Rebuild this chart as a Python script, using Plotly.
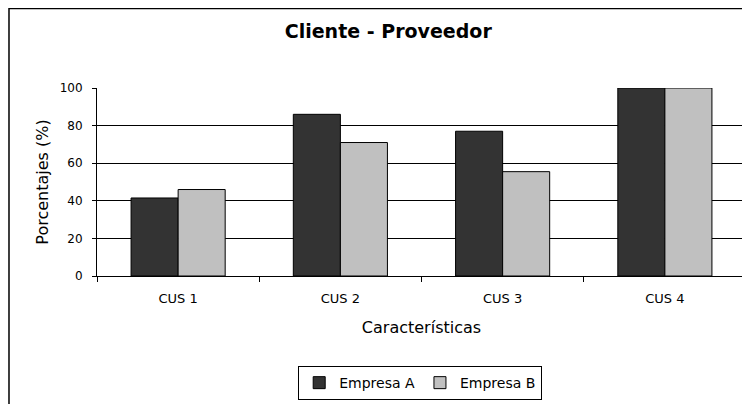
import plotly.graph_objects as go

categories = ["CUS 1", "CUS 2", "CUS 3", "CUS 4"]
empresa_a = [41.5, 86, 77, 100]
empresa_b = [46, 71, 55.5, 100]
series_names = ["Empresa A", "Empresa B"]
colors = ["#333333", "#C0C0C0"]

FONT = "DejaVu Sans, Liberation Sans, Arial, sans-serif"

fig = go.Figure()
for name, vals, col in zip(series_names, [empresa_a, empresa_b], colors):
    fig.add_trace(go.Bar(
        x=categories, y=vals, name=name,
        marker=dict(color=col, line=dict(color="black", width=1)),
    ))

fig.update_layout(
    width=750, height=404,
    paper_bgcolor="white", plot_bgcolor="white",
    margin=dict(l=89, r=12, t=80, b=136),
    barmode="group", bargap=0.42, bargroupgap=0,
    font=dict(family=FONT, color="black", size=11),
    title=dict(text="<b>Cliente - Proveedor</b>", xref="container", x=0.507, xanchor="center",
               yref="container", y=0.941, yanchor="middle", font=dict(size=19, family=FONT)),
    showlegend=True,
    legend=dict(orientation="h", x=0.498, xanchor="center", y=-0.479, yanchor="top",
                bordercolor="black", borderwidth=1, font=dict(size=14),
                traceorder="normal", itemwidth=30),
    xaxis=dict(
        showline=True, linecolor="black", linewidth=1,
        ticks="outside", ticklen=5, tickcolor="black", tickson="boundaries",
        tickfont=dict(size=13), ticklabelstandoff=10, automargin=False,
        title=dict(text="Características", font=dict(size=16), standoff=17),
    ),
    yaxis=dict(
        range=[0, 100], dtick=20, showgrid=True, gridcolor="black", gridwidth=1,
        showline=True, linecolor="black", linewidth=1,
        ticks="outside", ticklen=4, tickcolor="black",
        tickfont=dict(size=12), ticklabelstandoff=7, automargin=False,
        title=dict(text="Porcentajes (%)", font=dict(size=16), standoff=7),
    ),
    shapes=[
        dict(type="rect", xref="paper", yref="paper",
             x0=-0.1356, x1=1.2, y0=-1.0, y1=1.423,
             line=dict(color="black", width=1.5), fillcolor="rgba(0,0,0,0)", layer="below"),
        dict(type="line", xref="paper", yref="paper", x0=1, x1=1, y0=0, y1=1,
             line=dict(color="black", width=1)),
    ],
)

fig.write_html("out.html")
